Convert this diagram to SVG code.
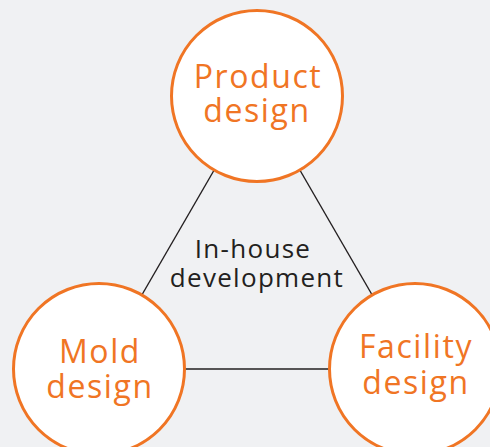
<svg xmlns="http://www.w3.org/2000/svg" width="490" height="447" viewBox="0 0 490 447">
  <style>
    .bg { fill: #f0f1f3; }
    .conn { stroke: #231f20; stroke-width: 1.4; fill: none; }
    .node circle { fill: #ffffff; stroke: #f07524; stroke-width: 3; }
    .label { font-family: "Open Sans", "Noto Sans", sans-serif; font-size: 32px; fill: #f07524; text-anchor: middle; letter-spacing: 1.6px; }
    .center { font-family: "Open Sans", "Noto Sans", sans-serif; font-size: 26px; fill: #231f20; text-anchor: middle; letter-spacing: 1.3px; }
  </style>
  <rect class="bg" x="0" y="0" width="490" height="447"/>
  <g id="connectors">
    <line class="conn" x1="257" y1="96" x2="99" y2="369"/>
    <line class="conn" x1="257" y1="96" x2="415" y2="369"/>
    <line class="conn" x1="99" y1="369" x2="415" y2="369"/>
  </g>
  <g id="center-label">
    <text class="center" x="253" y="258">In-house</text>
    <text class="center" x="257" y="287">development</text>
  </g>
  <g id="product-design" class="node">
    <circle cx="257" cy="96" r="85.5"/>
    <text class="label" x="258" y="88">Product</text>
    <text class="label" x="257" y="122">design</text>
  </g>
  <g id="mold-design" class="node">
    <circle cx="99" cy="369" r="85.5"/>
    <text class="label" x="100" y="363">Mold</text>
    <text class="label" x="100" y="398">design</text>
  </g>
  <g id="facility-design" class="node">
    <circle cx="415" cy="369" r="85.5"/>
    <text class="label" x="416" y="358">Facility</text>
    <text class="label" x="416" y="394">design</text>
  </g>
</svg>
